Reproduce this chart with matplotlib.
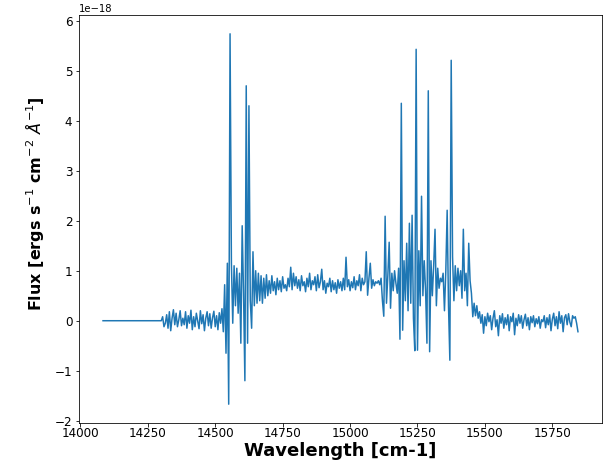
import numpy as np
from matplotlib import pyplot as plt

# flux in units of 1e-18 ergs s^-1 cm^-2 A^-1

# flat start + noisy baseline before the emission
wave_a = [14084, 14300, 14305, 14310, 14315, 14320, 14325, 14330, 14335, 14340,
          14345, 14350, 14355, 14360, 14365, 14370, 14375, 14380, 14385, 14390,
          14395, 14400, 14405, 14410, 14415, 14420, 14425, 14430, 14435, 14440,
          14445, 14450, 14455, 14460, 14465, 14470, 14475, 14480, 14485, 14490,
          14495, 14500, 14505, 14510, 14515, 14520, 14525, 14530]
flux_a = [0.00, 0.00, 0.08, -0.12, -0.05, 0.12, -0.15, 0.18, -0.20, 0.05,
          0.22, -0.08, 0.15, -0.12, 0.02, 0.20, -0.10, 0.05, -0.08, 0.18,
          -0.15, 0.10, -0.05, 0.21, -0.18, 0.08, -0.12, 0.15, 0.00, -0.16,
          0.20, -0.06, 0.12, -0.20, 0.05, 0.18, -0.10, 0.14, -0.15, 0.06,
          0.19, -0.12, 0.10, -0.18, 0.16, -0.05, 0.24, -0.22]

# first group of strong lines
wave_b = [14535, 14540, 14545, 14550, 14555, 14560, 14565, 14570, 14575, 14580,
          14585, 14590, 14595, 14600, 14605, 14610, 14615, 14620, 14625, 14630,
          14635, 14640, 14645, 14650, 14655, 14660]
flux_b = [0.72, -0.65, 1.15, -1.67, 5.74, 1.15, -0.05, 1.10, 0.30, 1.05,
          0.15, 0.95, -0.45, 1.90, 0.55, -1.20, 4.70, -0.45, 4.30, 0.40,
          -0.15, 1.38, 0.30, 1.00, 0.35, 0.95]

# continuum plateau
wave_c = [14665, 14670, 14675, 14680, 14685, 14690, 14695, 14700, 14705, 14710,
          14715, 14720, 14725, 14730, 14735, 14740, 14745, 14750, 14755, 14760,
          14765, 14770, 14775, 14780, 14785, 14790, 14795, 14800, 14805, 14810,
          14815, 14820, 14825, 14830, 14835, 14840, 14845, 14850, 14855, 14860,
          14865, 14870, 14875, 14880, 14885, 14890, 14895, 14900, 14905, 14910,
          14915, 14920, 14925, 14930, 14935, 14940, 14945, 14950, 14955, 14960,
          14965, 14970, 14975, 14980, 14985, 14990, 14995, 15000, 15005, 15010,
          15015, 15020, 15025, 15030, 15035, 15040, 15045, 15050, 15055, 15060,
          15065, 15070, 15075, 15080, 15085, 15090, 15095, 15100, 15105, 15110,
          15115]
flux_c = [0.40, 0.90, 0.35, 0.85, 0.45, 0.92, 0.50, 0.80, 0.55, 0.90,
          0.60, 0.78, 0.52, 0.85, 0.62, 0.80, 0.58, 0.88, 0.65, 0.72,
          0.60, 0.85, 0.68, 1.07, 0.62, 0.95, 0.70, 0.88, 0.65, 0.82,
          0.60, 0.90, 0.70, 0.78, 0.58, 0.85, 0.68, 0.95, 0.62, 0.80,
          0.72, 0.88, 0.60, 0.92, 0.66, 0.78, 1.03, 0.62, 0.80, 0.55,
          0.75, 0.68, 0.85, 0.58, 0.80, 0.62, 0.76, 0.55, 0.82, 0.65,
          0.78, 0.60, 0.85, 0.62, 1.27, 0.68, 0.82, 0.60, 0.78, 0.66,
          0.88, 0.62, 0.80, 0.70, 0.92, 0.60, 0.85, 0.72, 0.78, 1.38,
          0.51, 0.85, 1.15, 0.65, 0.82, 0.70, 0.78, 0.75, 0.80, 0.72,
          0.85]

# second group of strong lines
wave_d = [15120, 15125, 15130, 15135, 15140, 15145, 15150, 15155, 15160, 15165,
          15170, 15175, 15180, 15185, 15190, 15195, 15200, 15205, 15210, 15215,
          15220, 15225, 15230, 15235, 15240, 15245, 15250, 15255, 15260, 15265,
          15270, 15275, 15280, 15285, 15290, 15295, 15300, 15305, 15310, 15315,
          15320, 15325, 15330, 15335, 15340, 15345, 15350, 15355, 15360, 15365,
          15370, 15375, 15380, 15385, 15390, 15395, 15400, 15405, 15410, 15415,
          15420, 15425, 15430, 15435, 15440, 15445, 15450, 15455, 15460, 15465,
          15470, 15475]
flux_d = [0.40, 0.09, 2.09, 0.35, 0.90, 1.57, 0.25, 0.95, 0.60, 1.00,
          0.75, 0.55, 1.05, -0.37, 4.35, -0.19, 1.20, 0.40, 1.55, 0.20,
          1.95, 0.35, 2.11, 0.05, -0.60, 5.43, -0.59, 1.40, 0.30, 2.49,
          0.50, 1.20, 0.60, -0.45, 4.60, -0.62, 1.20, 0.50, 1.10, 1.83,
          0.30, 1.05, 0.65, 0.85, 0.78, 0.95, 0.20, 1.00, 2.21, 0.30,
          -0.79, 5.21, 1.28, 0.40, 1.10, 0.60, 1.05, 0.70, 1.00, 0.45,
          1.83, 0.60, 0.95, 0.30, 1.55, 0.80, 0.55, 0.08, 0.35, 0.10,
          0.30, 0.05]

# noisy tail
wave_e = [15480, 15485, 15490, 15495, 15500, 15505, 15510, 15515, 15520, 15525,
          15530, 15535, 15540, 15545, 15550, 15555, 15560, 15565, 15570, 15575,
          15580, 15585, 15590, 15595, 15600, 15605, 15610, 15615, 15620, 15625,
          15630, 15635, 15640, 15645, 15650, 15655, 15660, 15665, 15670, 15675,
          15680, 15685, 15690, 15695, 15700, 15705, 15710, 15715, 15720, 15725,
          15730, 15735, 15740, 15745, 15750, 15755, 15760, 15765, 15770, 15775,
          15780, 15785, 15790, 15795, 15800, 15805, 15810, 15815, 15820, 15825,
          15830, 15835, 15840, 15845]
flux_e = [0.18, -0.05, 0.12, -0.25, 0.08, -0.10, 0.15, -0.02, 0.10, -0.18,
          0.05, 0.20, -0.12, 0.02, -0.30, 0.10, -0.05, 0.14, -0.15, 0.06,
          -0.08, 0.12, -0.20, 0.08, -0.02, 0.15, -0.28, 0.05, -0.10, 0.12,
          -0.05, 0.10, -0.15, 0.02, 0.13, -0.10, 0.06, -0.18, 0.08, -0.04,
          0.10, -0.12, 0.04, -0.06, 0.08, -0.15, 0.02, -0.02, 0.10, -0.14,
          0.06, -0.08, 0.12, -0.20, 0.03, 0.15, -0.10, 0.08, -0.16, 0.18,
          -0.05, 0.10, -0.22, 0.06, 0.12, -0.08, 0.14, -0.03, -0.12, 0.10,
          0.05, 0.08, -0.05, -0.22]

wave = np.concatenate([wave_a, wave_b, wave_c, wave_d, wave_e])
flux = np.concatenate([flux_a, flux_b, flux_c, flux_d, flux_e]) * 1e-18

fig = plt.figure(figsize=(616 / 72, 463 / 72), dpi=72)
ax = fig.add_axes([0.1287, 0.087, 0.8481, 0.880])
ax.plot(wave, flux, color="#1f77b4", linewidth=1.5)

plt.xticks(fontsize=12)
plt.yticks(fontsize=12)
ax.tick_params(axis="x", pad=1)
plt.xlabel("Wavelength [cm-1]", fontsize=18, fontweight="bold", labelpad=2)
plt.ylabel(r"Flux [ergs s$^{-1}$ cm$^{-2}$ $\AA^{-1}$]", fontsize=16, fontweight="bold")
ax.yaxis.set_label_coords(-0.064, 0.537)

plt.savefig("out.png", dpi=72)
